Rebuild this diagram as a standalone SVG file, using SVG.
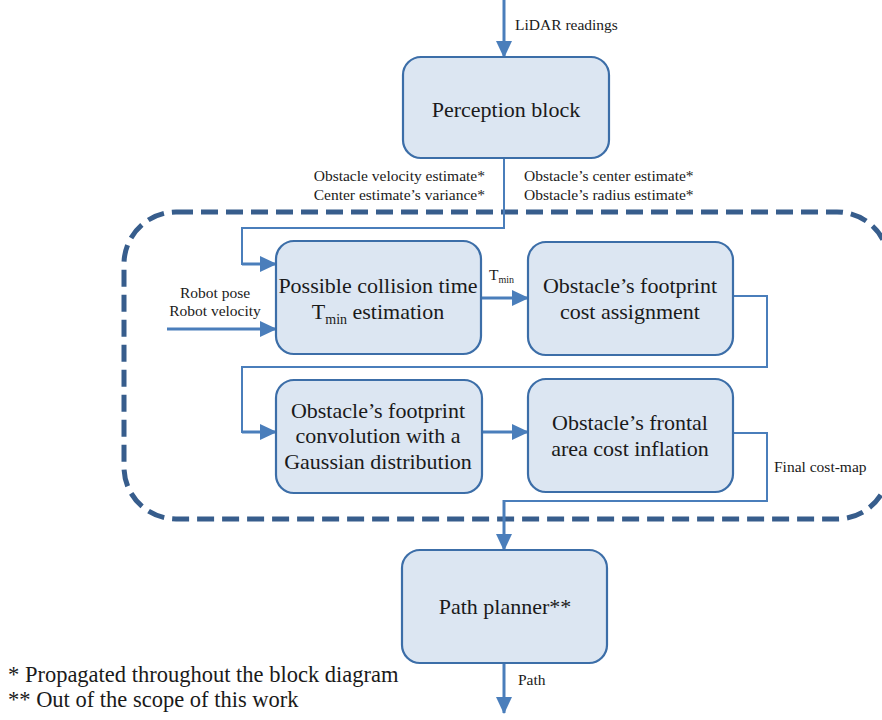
<svg xmlns="http://www.w3.org/2000/svg" width="882" height="720" viewBox="0 0 882 720">
<style>
.box{fill:#dce6f2;stroke:#3c6ea8;stroke-width:2.2}
.t{font-family:'Liberation Serif',serif;font-size:22px;fill:#1a1a1a;text-anchor:middle}
.n{font-family:'Liberation Serif',serif;font-size:22.5px;fill:#1a1a1a}
.s{font-family:'Liberation Serif',serif;font-size:15.5px;fill:#1a1a1a}
.w{fill:none;stroke:#4a7ebb;stroke-width:2}
.a{fill:none;stroke:#4a7ebb;stroke-width:3;marker-end:url(#ah)}
.dash{fill:none;stroke:#375d8c;stroke-width:5;stroke-dasharray:17 8}
</style>
<defs>
<marker id="ah" markerUnits="userSpaceOnUse" markerWidth="18" markerHeight="16" refX="16" refY="8" orient="auto">
<path d="M0,0 L17,8 L0,16 Z" fill="#4a7ebb"/>
</marker>
</defs>
<rect class="dash" x="124" y="212" width="765" height="307" rx="52"/>
<g id="connectors">
<line class="a" x1="504" y1="0" x2="504" y2="57"/>
<polyline class="w" points="504,158 504,228 242,228 242,264 258,264"/>
<line class="a" x1="242" y1="264" x2="276" y2="264"/>
<line class="a" x1="167" y1="329" x2="276" y2="329"/>
<line class="a" x1="481" y1="298" x2="528" y2="298"/>
<polyline class="w" points="733,296 767,296 767,367 242,367 242,432 258,432"/>
<line class="a" x1="242" y1="432" x2="276" y2="432"/>
<line class="a" x1="482" y1="432" x2="528" y2="432"/>
<polyline class="w" points="733,433 767,433 767,501 504,501 504,520"/>
<line class="a" x1="504" y1="500" x2="504" y2="550"/>
<line class="a" x1="504" y1="663" x2="504" y2="713"/>
</g>
<g id="labels">
<text class="s" x="515" y="30">LiDAR readings</text>
<text class="s" x="485" y="181" text-anchor="end">Obstacle velocity estimate*</text>
<text class="s" x="485" y="200" text-anchor="end">Center estimate’s variance*</text>
<text class="s" x="524" y="181">Obstacle’s center estimate*</text>
<text class="s" x="524" y="200">Obstacle’s radius estimate*</text>
<text class="s" x="215" y="298" text-anchor="middle">Robot pose</text>
<text class="s" x="215" y="316" text-anchor="middle">Robot velocity</text>
<text class="s" x="489" y="280">T<tspan font-size="10" dy="3">min</tspan></text>
<text class="s" x="774" y="472">Final cost-map</text>
<text class="s" x="518" y="685">Path</text>
</g>
<g id="perception">
<rect class="box" x="403" y="57" width="206" height="101" rx="18"/>
<text class="t" x="506" y="117">Perception block</text>
</g>
<g id="collision">
<rect class="box" x="276" y="241" width="205" height="113" rx="18"/>
<text class="t" x="378" y="293">Possible collision time</text>
<text class="t" x="378" y="319">T<tspan font-size="14" dy="5">min</tspan><tspan dy="-5"> estimation</tspan></text>
</g>
<g id="footprint">
<rect class="box" x="528" y="242" width="205" height="113" rx="18"/>
<text class="t" x="630" y="293">Obstacle’s footprint</text>
<text class="t" x="630" y="319">cost assignment</text>
</g>
<g id="convolution">
<rect class="box" x="276" y="380" width="206" height="113" rx="18"/>
<text class="t" x="378" y="418" font-size="21.5">Obstacle’s footprint</text>
<text class="t" x="378" y="443" font-size="21.5">convolution with a</text>
<text class="t" x="378" y="469" font-size="21.5">Gaussian distribution</text>
</g>
<g id="inflation">
<rect class="box" x="528" y="379" width="205" height="113" rx="18"/>
<text class="t" x="630" y="430">Obstacle’s frontal</text>
<text class="t" x="630" y="456">area cost inflation</text>
</g>
<g id="planner">
<rect class="box" x="402" y="550" width="205" height="113" rx="18"/>
<text class="t" x="505" y="614">Path planner**</text>
</g>
<g id="notes">
<text class="n" x="8" y="682">* Propagated throughout the block diagram</text>
<text class="n" x="8" y="707">** Out of the scope of this work</text>
</g>
</svg>
